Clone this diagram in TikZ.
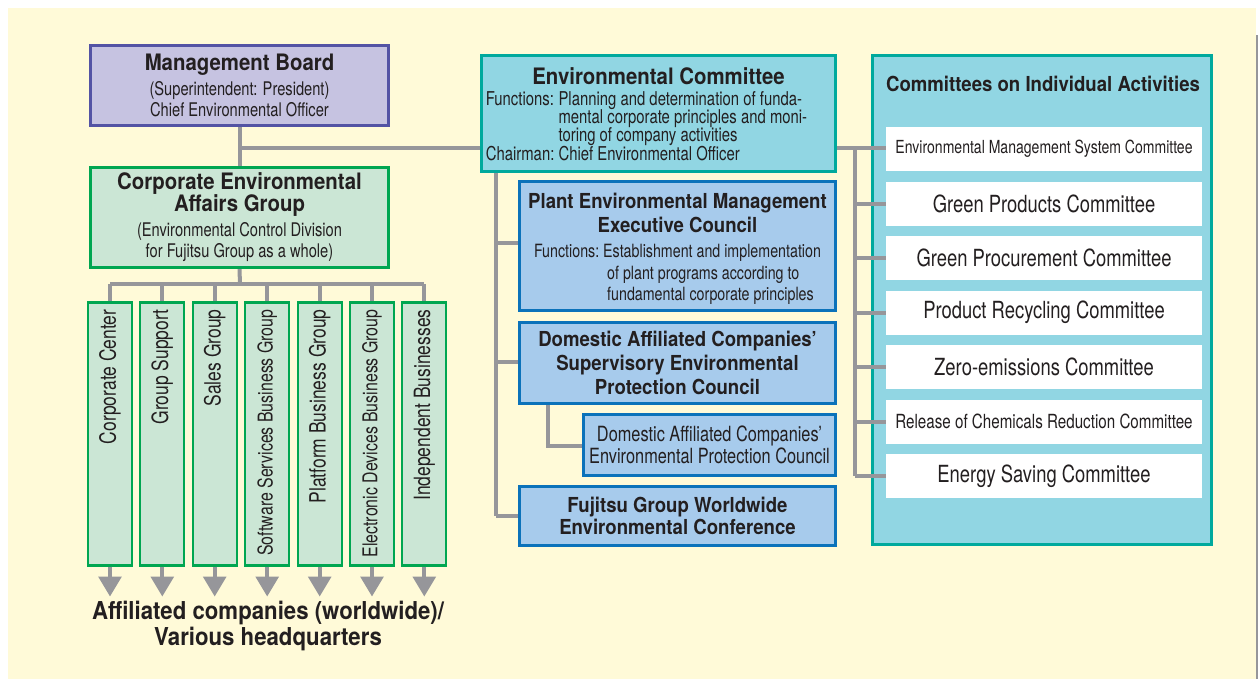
\documentclass[tikz,border=0pt]{standalone}
\usepackage{fontspec}
\setmainfont{TeX Gyre Heros}[FakeStretch=0.78]
\newfontfamily\tfont{TeX Gyre Heros}[FakeStretch=0.9]
\usetikzlibrary{arrows.meta}
\definecolor{bgc}{HTML}{FFFAD8}
\definecolor{txt}{HTML}{231F20}
\definecolor{mbd}{HTML}{5353A4}
\definecolor{mbf}{HTML}{C6C3E1}
\definecolor{grd}{HTML}{00A651}
\definecolor{grf}{HTML}{CBE6D5}
\definecolor{tld}{HTML}{00A99D}
\definecolor{tlf}{HTML}{91D6E3}
\definecolor{bld}{HTML}{0B72BA}
\definecolor{blf}{HTML}{A7CBEC}
\definecolor{cgray}{HTML}{96969A}
\newcommand\fTitle{\tfont\bfseries\fontsize{17}{18}\selectfont}
\newcommand\fTitleS{\tfont\bfseries\fontsize{15.5}{17.6}\selectfont}
\newcommand\fRow{\fontsize{17.7}{19}\selectfont}
\tikzset{
  wh/.style 2 args={minimum width=#1*0.75pt, minimum height=#2*0.75pt},
  box/.style={draw, line width=2.4pt, inner sep=0pt, align=center, text=txt,
     font=\fontsize{14.1}{15.75}\selectfont},
  mbbox/.style={box, draw=mbd, fill=mbf},
  grbox/.style={box, draw=grd, fill=grf},
  tlbox/.style={box, draw=tld, fill=tlf},
  blbox/.style={box, draw=bld, fill=blf},
  inbox/.style={text=txt, align=center, inner sep=0pt, font=\fontsize{14.1}{15.75}\selectfont},
  vbox/.style={draw=grd, fill=grf, line width=1.6pt, rotate=90, minimum height=33pt,
     minimum width=197.25pt, inner xsep=0pt, inner ysep=0pt, text=txt},
  row/.style={fill=white, wh={316}{44}, inner sep=0pt, text=txt, font=\fRow},
  conn/.style={draw=cgray, line width=3pt},
  arr/.style={conn, -{Triangle[width=17pt,length=15pt]}},
}
\begin{document}
\begin{tikzpicture}[x=0.75pt,y=-0.75pt]
\useasboundingbox (0,0) rectangle (1258,679);
\fill[white] (0,0) rectangle (1258,679);
\fill[bgc] (8,8) rectangle (1256,679);
\draw[cgray, line width=1.2pt] (1257,35) -- (1257,679);

\coordinate (j1) at (240,148);
\coordinate (bar) at (240,284);
\coordinate (rtop) at (855,148);
\coordinate (rbot) at (855,476);
\coordinate (ltop) at (496,173);
\coordinate (lbot) at (496,516);
\coordinate (lp) at (496,243);
\coordinate (ls) at (496,362);
\coordinate (dtop) at (548,405);
\coordinate (dbot) at (548,446);

% left column boxes
\node[mbbox, wh={298}{80}] (mb) at (239.5,85.5)
  {{\fTitle Management Board}\\[3pt]
   (Superintendent: President)\\Chief Environmental Officer};
\node[grbox, wh={298}{100}] (ceag) at (239.5,217.5)
  {{\fTitle Corporate Environmental}\\[-1pt]{\fTitle Affairs Group}\\[3pt]
   (Environmental Control Division\\for Fujitsu Group as a whole)};

% vertical boxes
\foreach \i/\x/\s/\t in {1/110/16.8/Corporate Center, 2/162.3/16.8/Group Support, 3/214.7/16.8/Sales Group,
   4/267.2/15.3/Software Services Business Group, 5/319.7/16.8/Platform Business Group,
   6/372/15.3/Electronic Devices Business Group, 7/424.3/16.8/Independent Businesses}{
  \node[vbox, font=\fontsize{\s}{18}\selectfont] (v\i) at (\x,434) {\makebox[192pt][r]{\t}\hspace*{5.25pt}};
}

% environmental committee
\node[tlbox, wh={354}{116}] (ec) at (658.5,113.5) {};
\node[inbox] (ect) at (658.5,116.5)
  {{\fTitle Environmental Committee}\\[4.5pt]
   \hspace*{-18pt}\fontsize{14.3}{13.7}\selectfont
   \begin{tabular}{@{}l@{\ }l@{}}
   Functions: & Planning and determination of funda-\\[-1pt]
              & mental corporate principles and moni-\\[-1pt]
              & toring of company activities\\[-1pt]
   Chairman:  & Chief Environmental Officer
   \end{tabular}};

\node[blbox, wh={316}{129}] (plant) at (677.5,246) {};
\node[inbox] (plantt) at (677.5,250)
  {{\fTitleS Plant Environmental Management}\\[2.25pt]{\fTitleS Executive Council}\\[6.5pt]
   \fontsize{13.7}{16.2}\selectfont
   \begin{tabular}{@{}l@{\ }l@{}}
   Functions: & Establishment and implementation\\
              & \hspace*{3pt}of plant programs according to\\
              & \hspace*{3pt}fundamental corporate principles
   \end{tabular}};

\node[blbox, wh={316}{81}] (dsup) at (677.5,363)
  {{\fTitleS Domestic Affiliated Companies’}\\[2pt]{\fTitleS Supervisory Environmental}\\[2pt]{\fTitleS Protection Council}};

\node[blbox, wh={252}{61}] (denv) at (709.5,445)
  {{\fontsize{15.7}{17}\selectfont Domestic Affiliated Companies’}\\[1pt]{\fontsize{15.7}{17}\selectfont Environmental Protection Council}};

\node[blbox, wh={316}{59}] (ww) at (677.5,516)
  {{\fTitleS Fujitsu Group Worldwide}\\[0.5pt]{\fTitleS Environmental Conference}};

% right big box
\node[tlbox, wh={339}{489}] (cia) at (1042,300) {};
\node[text=txt, font=\fTitleS] (ciat) at (1043,84) {Committees on Individual Activities};
\foreach \i/\y/\t in {1/149/{\fontsize{13.5}{16}\selectfont Environmental Management System Committee},
   2/203.5/Green Products Committee, 3/258/Green Procurement Committee,
   4/312.5/Product Recycling Committee, 5/367/Zero-emissions Committee,
   6/421.5/{\fontsize{14.6}{16}\selectfont Release of Chemicals Reduction Committee},
   7/476/Energy Saving Committee}{
  \node[row] (r\i) at (1044,\y) {\t};
}

% bottom text
\node[text=txt, align=center, font=\tfont\bfseries\fontsize{18.5}{19}\selectfont] (aff) at (268,626)
  {Affiliated companies (worldwide)/\\Various headquarters};

% connectors
\draw[conn] (mb.south) -- (ceag.north);
\draw[conn] (j1) -- (ec.west |- j1);
\draw[conn] (ceag.south) -- (bar);
\draw[conn] (v1.east |- bar) -- (v7.east |- bar);
\foreach \i in {1,...,7}{
  \draw[conn] (v\i.east |- bar) -- (v\i.east);
  \draw[arr] (v\i.west) -- ++(0,30);
}
\draw[conn] (ec.east |- rtop) -- (r1.west |- rtop);
\draw[conn] (rtop) -- (rbot);
\foreach \i in {2,...,7}{
  \draw[conn] (r\i.west -| rtop) -- (r\i.west);
}
\draw[conn] (ltop) -- (lbot);
\draw[conn] (lp) -- (plant.west |- lp);
\draw[conn] (ls) -- (dsup.west |- ls);
\draw[conn] (lbot) -- (ww.west |- lbot);
\draw[conn] (dtop) -- (dbot) -- (denv.west |- dbot);
\end{tikzpicture}
\end{document}
